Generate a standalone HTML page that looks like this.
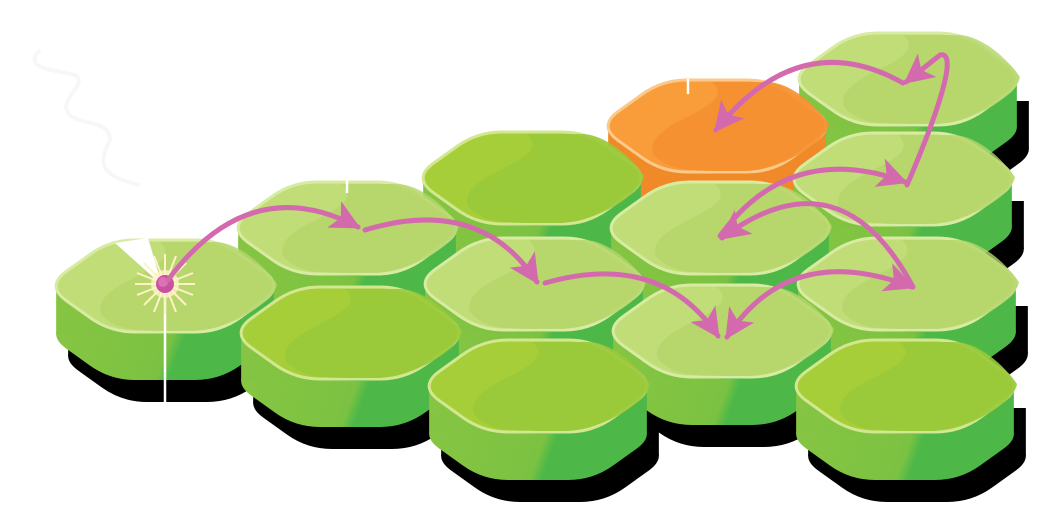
<!DOCTYPE html>
<html><head><meta charset="utf-8"><style>html,body{margin:0;padding:0;background:#fff;}svg{display:block}</style></head>
<body>
<svg width="1047" height="507" viewBox="0 0 1047 507" xmlns="http://www.w3.org/2000/svg">
<defs>
<linearGradient id="sg" gradientUnits="userSpaceOnUse" x1="-109" y1="60" x2="109" y2="140">
<stop offset="0" stop-color="#86c543"/><stop offset="0.45" stop-color="#7cc242"/><stop offset="0.5" stop-color="#4db848"/><stop offset="1" stop-color="#4db848"/></linearGradient>
<path id="top" d="M-98.7,31.4 Q-119,46 -98.7,60.6 L-75.3,77.4 Q-55,92 -30,92 L30,92 Q55,92 75.3,77.4 L98.7,60.6 Q119,46 98.7,31.4 L75.3,14.6 Q55,0 30,0 L-30,0 Q-55,0 -75.3,14.6Z"/>
<g id="side">
<use href="#top" transform="translate(0,48)"/>
<rect x="-108.85" y="46" width="217.7" height="48"/>
</g>
<path id="hl" d="M-5,2 C25,30 -75,40 -64,74 C-50,90 -30,91 0,91 L30,91 C70,88 110,60 112,44 C95,20 70,2 50,2Z"/>
<g id="shadow" fill="#000"><use href="#side" transform="translate(12,22)"/></g>
<g id="L">
<g fill="url(#sg)"><use href="#side"/></g>
<use href="#top" fill="#c0dd78" stroke="#d8eba2" stroke-width="3"/>
<use href="#hl" fill="#b4d66a" opacity="0.8"/>
</g>
<g id="D">
<g fill="url(#sg)"><use href="#side"/></g>
<use href="#top" fill="#a5ce38" stroke="#d2e78f" stroke-width="3"/>
<use href="#hl" fill="#99c93a" opacity="0.9"/>
</g>
<g id="O">
<g fill="#f08a28"><use href="#side"/></g>
<use href="#top" fill="#f89d3a" stroke="#fbc98a" stroke-width="3"/>
<use href="#hl" fill="#f59032" opacity="0.9"/>
</g>
<marker id="ah" viewBox="0 0 10 10" refX="9" refY="5" markerWidth="7.5" markerHeight="6" orient="auto-start-reverse" markerUnits="strokeWidth"><path d="M0,0 L10,5 L0,10 L2.5,5Z" fill="#d46aae"/></marker>
</defs>
<path d="M40,50 C20,70 60,70 75,75 C90,85 55,100 70,115 C80,125 110,120 110,140 C100,160 95,175 140,185" fill="none" stroke="#f7f7f7" stroke-width="4"/>
<use href="#shadow" transform="translate(908,33)"/>
<use href="#shadow" transform="translate(903,133)"/>
<use href="#shadow" transform="translate(907,238)"/>
<use href="#shadow" transform="translate(905,340)"/>
<use href="#shadow" transform="translate(722,285)"/>
<use href="#shadow" transform="translate(538,340)"/>
<use href="#shadow" transform="translate(350,287)"/>
<use href="#shadow" transform="translate(165,240)"/>
<use href="#L" transform="translate(908,33)"/>
<use href="#O" transform="translate(717,80)"/>
<use href="#D" transform="translate(532,132)"/>
<use href="#L" transform="translate(903,133)"/>
<use href="#L" transform="translate(347,182)"/>
<use href="#L" transform="translate(720,182)"/>
<use href="#L" transform="translate(534,238)"/>
<use href="#L" transform="translate(907,238)"/>
<use href="#L" transform="translate(165,240)"/>
<use href="#L" transform="translate(722,285)"/>
<use href="#D" transform="translate(350,287)"/>
<use href="#D" transform="translate(538,340)"/>
<use href="#D" transform="translate(905,340)"/>
<polygon points="115,243 148,238 162,285" fill="#fff"/>
<line x1="165" y1="285" x2="165" y2="405" stroke="#fff" stroke-width="2.5"/>
<line x1="347" y1="180" x2="347" y2="193" stroke="#fff" stroke-width="2.5"/>
<line x1="688" y1="79" x2="688" y2="94" stroke="#fff" stroke-width="2.5"/>
<g transform="translate(165,284)" stroke="#fff2c8" stroke-width="2">
<line x1="-30" y1="0" x2="30" y2="0"/><line x1="0" y1="-30" x2="0" y2="30"/>
<line x1="-21" y1="-21" x2="21" y2="21"/><line x1="-21" y1="21" x2="21" y2="-21"/>
<line x1="-28" y1="-11" x2="28" y2="11"/><line x1="-28" y1="11" x2="28" y2="-11"/>
<line x1="-11" y1="-28" x2="11" y2="28"/><line x1="-11" y1="28" x2="11" y2="-28"/>
</g>
<circle cx="165" cy="284" r="14" fill="#fff2c8" opacity="0.8"/>
<circle cx="165" cy="284" r="9" fill="#c9529f"/>
<circle cx="163" cy="282" r="5" fill="#dd70b6"/>
<g fill="none" stroke="#d46aae" stroke-width="5" stroke-linecap="round">
<path d="M168,280 Q250,170 358,227" marker-end="url(#ah)"/>
<path d="M365,230 Q480,195 537,282" marker-end="url(#ah)"/>
<path d="M545,283 Q660,250 718,336" marker-end="url(#ah)"/>
<path d="M720,236 Q790,140 905,182" marker-end="url(#ah)"/>
<path d="M907,185 C935,120 960,50 940,55 L906,82" marker-end="url(#ah)"/>
<path d="M903,83 Q800,25 716,130" marker-end="url(#ah)"/>
<path d="M913,287 Q840,150 722,238" marker-end="url(#ah)"/>
<path d="M727,337 Q790,240 912,287" marker-start="url(#ah)" marker-end="url(#ah)"/>
</g>
</svg>
</body></html>
